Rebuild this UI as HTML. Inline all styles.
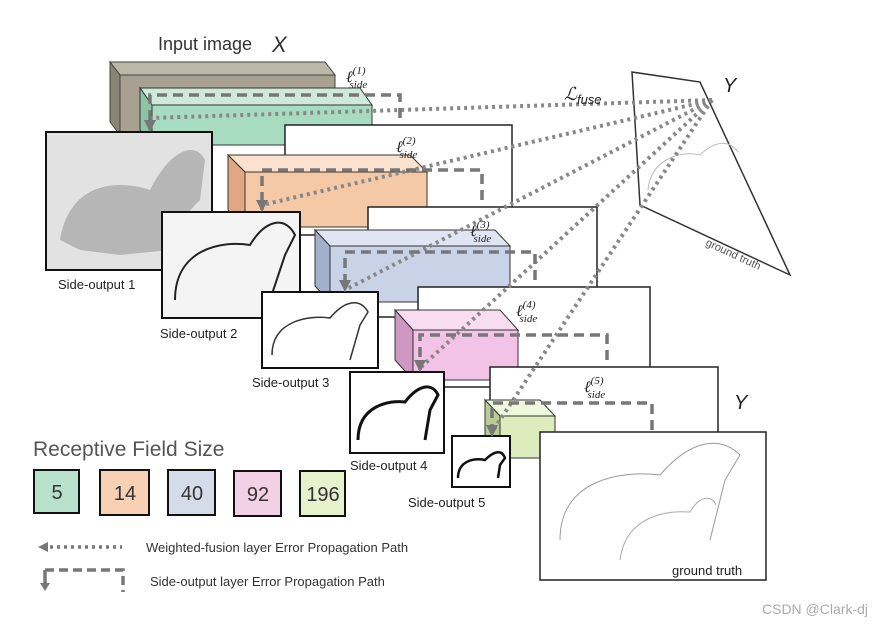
<!DOCTYPE html>
<html><head><meta charset="utf-8"><style>
html,body{margin:0;padding:0;background:#fff}
svg{display:block;font-family:"Liberation Sans",sans-serif}
</style></head><body>
<svg width="891" height="628" viewBox="0 0 891 628" xmlns="http://www.w3.org/2000/svg">
<defs>
<marker id="ah" markerUnits="userSpaceOnUse" markerWidth="12" markerHeight="12" refX="10" refY="6" orient="auto"><path d="M0,0 L12,6 L0,12z" fill="#777"/></marker>
</defs>
<polygon points="632,72 700,82 790,275 640,205" fill="#fff" stroke="#333" stroke-width="1.5"/>
<path d="M648,190 C650,160 680,150 700,155 C715,140 730,140 738,152" fill="none" stroke="#bbb"/>
<text x="705" y="245" font-size="11" fill="#555" transform="rotate(25 705 245)">ground truth</text>
<text x="723" y="92" font-size="20" font-style="italic" fill="#222">Y</text>
<polygon points="110,62 325,62 335,75 120,75" fill="#bdb7a8" stroke="#444"/>
<rect x="120" y="75" width="215" height="60" fill="#a8a090" stroke="#444"/>
<polygon points="110,62 120,75 120,135 110,122" fill="#8a8474" stroke="#444"/>
<text x="158" y="50" font-size="18" fill="#333">Input image</text>
<text x="272" y="52" font-size="22" font-style="italic" fill="#333">X</text>
<polygon points="140,88 360,88 372,105 152,105" fill="#cfeadb" stroke="#333"/>
<rect x="152" y="105" width="220" height="40" fill="#a8dcc0" stroke="#333"/>
<polygon points="140,88 152,105 152,145 140,130" fill="#8cc4a6" stroke="#333"/>
<rect x="285" y="125" width="227" height="110" fill="#fff" stroke="#222" stroke-width="1.5"/>
<rect x="46" y="132" width="166" height="138" fill="#e2e2e2" stroke="#111" stroke-width="2"/>
<path d="M60,240 C70,180 120,180 150,190 C170,150 195,140 205,160 L200,200 C190,210 180,220 170,250 L120,255 L80,250z" fill="#999" opacity="0.6"/>
<text x="58" y="289" font-size="13" fill="#222">Side-output 1</text>
<polygon points="228,155 410,155 427,172 245,172" fill="#fbe2cf" stroke="#333"/>
<rect x="245" y="172" width="182" height="55" fill="#f5c8a6" stroke="#333"/>
<polygon points="228,155 245,172 245,227 228,210" fill="#e0a882" stroke="#333"/>
<rect x="368" y="207" width="229" height="110" fill="#fff" stroke="#222" stroke-width="1.5"/>
<rect x="162" y="212" width="138" height="106" fill="#f4f4f4" stroke="#111" stroke-width="2"/>
<path d="M175,300 C175,250 220,240 250,245 C265,220 285,215 295,235 L285,255 L270,300" fill="none" stroke="#222" stroke-width="2"/>
<text x="160" y="338" font-size="13" fill="#222">Side-output 2</text>
<polygon points="315,230 495,230 510,246 330,246" fill="#dfe5f2" stroke="#333"/>
<rect x="330" y="246" width="180" height="56" fill="#c9d3e8" stroke="#333"/>
<polygon points="315,230 330,246 330,302 315,286" fill="#a3b0cc" stroke="#333"/>
<rect x="418" y="287" width="232" height="100" fill="#fff" stroke="#222" stroke-width="1.5"/>
<rect x="262" y="292" width="116" height="76" fill="#fff" stroke="#111" stroke-width="2"/>
<path d="M272,355 C272,320 310,315 330,318 C345,300 360,298 368,312 L360,325 L350,360" fill="none" stroke="#333" stroke-width="1.5"/>
<text x="252" y="387" font-size="13" fill="#222">Side-output 3</text>
<polygon points="395,310 500,310 518,330 413,330" fill="#f8dcef" stroke="#333"/>
<rect x="413" y="330" width="105" height="50" fill="#f2c3e6" stroke="#333"/>
<polygon points="395,310 413,330 413,380 395,360" fill="#cf98c2" stroke="#333"/>
<rect x="490" y="367" width="228" height="90" fill="#fff" stroke="#222" stroke-width="1.5"/>
<rect x="350" y="372" width="94" height="81" fill="#fff" stroke="#111" stroke-width="2"/>
<path d="M358,440 C358,405 390,400 405,402 C418,385 432,382 438,395 L430,410 L425,440" fill="none" stroke="#111" stroke-width="3"/>
<text x="350" y="470" font-size="13" fill="#222">Side-output 4</text>
<polygon points="485,400 540,400 555,416 500,416" fill="#eef6dc" stroke="#333"/>
<rect x="500" y="416" width="55" height="42" fill="#dcecbc" stroke="#333"/>
<polygon points="485,400 500,416 500,458 485,442" fill="#b8cc94" stroke="#333"/>
<rect x="540" y="432" width="226" height="148" fill="#fff" stroke="#222" stroke-width="1.5"/>
<path d="M560,540 C560,480 620,470 660,475 C690,440 720,435 740,455 L725,480 L710,540" fill="none" stroke="#999"/>
<path d="M620,560 C625,520 660,510 690,512 C700,495 712,495 716,505" fill="none" stroke="#aaa"/>
<text x="672" y="575" font-size="13" fill="#222">ground truth</text>
<text x="734" y="409" font-size="20" font-style="italic" fill="#222">Y</text>
<rect x="452" y="436" width="58" height="51" fill="#fff" stroke="#111" stroke-width="2"/>
<path d="M458,478 C458,460 475,458 485,460 C495,450 502,450 505,458 L500,465 L498,478" fill="none" stroke="#111" stroke-width="2.5"/>
<text x="408" y="507" font-size="13" fill="#222">Side-output 5</text>
<g stroke="#888" stroke-width="4" stroke-dasharray="3,4" fill="none">
<line x1="712" y1="100" x2="150" y2="118"/>
<line x1="712" y1="100" x2="262" y2="205"/>
<line x1="712" y1="100" x2="345" y2="290"/>
<line x1="712" y1="100" x2="420" y2="368"/>
<line x1="712" y1="100" x2="492" y2="432"/>
</g>
<text x="564" y="100" font-size="18" font-style="italic" fill="#222">ℒ<tspan font-size="13" dy="4">fuse</tspan></text>
<g stroke="#777" stroke-width="3.5" stroke-dasharray="10,6" fill="none">
<path d="M400,118 V95 H150 V130" marker-end="url(#ah)"/>
<path d="M482,200 V170 H262 V210" marker-end="url(#ah)"/>
<path d="M535,280 V252 H345 V290" marker-end="url(#ah)"/>
<path d="M607,360 V335 H420 V370" marker-end="url(#ah)"/>
<path d="M652,430 V403 H492 V435" marker-end="url(#ah)"/>
</g>
<g font-size="16" font-style="italic" fill="#222" font-family="Liberation Serif,serif">
<text x="346" y="82">ℓ<tspan font-size="11" dy="-8">(1)</tspan><tspan font-size="11" dx="-16" dy="14">side</tspan></text>
<text x="396" y="152">ℓ<tspan font-size="11" dy="-8">(2)</tspan><tspan font-size="11" dx="-16" dy="14">side</tspan></text>
<text x="470" y="236">ℓ<tspan font-size="11" dy="-8">(3)</tspan><tspan font-size="11" dx="-16" dy="14">side</tspan></text>
<text x="516" y="316">ℓ<tspan font-size="11" dy="-8">(4)</tspan><tspan font-size="11" dx="-16" dy="14">side</tspan></text>
<text x="584" y="392">ℓ<tspan font-size="11" dy="-8">(5)</tspan><tspan font-size="11" dx="-16" dy="14">side</tspan></text>
</g>
<text x="33" y="456" font-size="21" fill="#555">Receptive Field Size</text>
<g stroke="#111" stroke-width="2">
<rect x="34" y="470" width="45" height="43" fill="#b7e1cd"/>
<rect x="100" y="470" width="49" height="45" fill="#f8d0b4"/>
<rect x="168" y="470" width="47" height="45" fill="#d5dce9"/>
<rect x="234" y="471" width="47" height="45" fill="#f2d0e6"/>
<rect x="300" y="471" width="45" height="45" fill="#e6f2cc"/>
</g>
<g font-size="20" fill="#333" text-anchor="middle">
<text x="57" y="499">5</text><text x="125" y="500">14</text><text x="192" y="500">40</text><text x="258" y="501">92</text><text x="323" y="501">196</text>
</g>
<path d="M38,547 l10,-5 v10z" fill="#777"/>
<line x1="50" y1="547" x2="122" y2="547" stroke="#777" stroke-width="3.5" stroke-dasharray="3,4"/>
<path d="M45,570 H123 V592" stroke="#777" stroke-width="3.5" stroke-dasharray="9,5" fill="none"/>
<line x1="45" y1="570" x2="45" y2="585" stroke="#777" stroke-width="3.5"/>
<path d="M40,583 h10 l-5,8z" fill="#777"/>
<text x="146" y="552" font-size="13" fill="#333">Weighted-fusion layer Error Propagation Path</text>
<text x="150" y="586" font-size="13" fill="#333">Side-output layer Error Propagation Path</text>
<text x="762" y="614" font-size="14" fill="#aaa">CSDN @Clark-dj</text>
</svg>
</body></html>
